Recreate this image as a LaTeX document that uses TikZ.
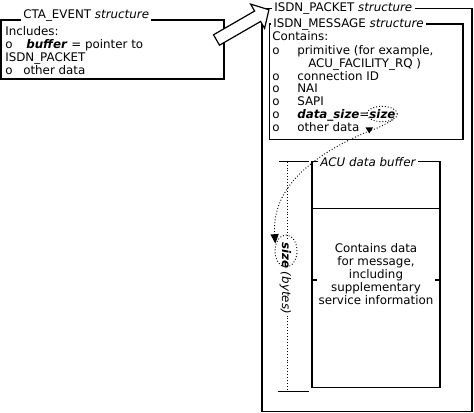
\documentclass[tikz,border=0pt]{standalone}
\usepackage{fontspec}
\setmainfont{DejaVu Sans}
\usetikzlibrary{shapes.geometric,arrows.meta}
\begin{document}
\begin{tikzpicture}[x=0.75pt,y=-0.75pt,
  txt/.style={font=\fontsize{8.9}{10}\selectfont, inner sep=0pt, anchor=base west},
  ctxt/.style={font=\fontsize{8.9}{10}\selectfont, inner sep=0pt, anchor=base},
  ttl/.style={font=\fontsize{8.9}{10}\selectfont, inner sep=1.5pt},
  heavybox/.style={line width=1.4pt},
  boxline/.style={line width=1.1pt},
  dimline/.style={line width=0.8pt},
  dotline/.style={line width=0.7pt, dash pattern=on 0.7pt off 1.5pt},
  ell/.style={ellipse, draw, line width=0.7pt, dash pattern=on 0.7pt off 1.5pt, inner sep=0pt},
  blk/.style={draw, line width=0.9pt, fill=white, line join=miter}]
\useasboundingbox (0,0) rectangle (474,413);

% ---------- CTA_EVENT box ----------
\node[ttl, anchor=base west] (ctat) at (21,18.5) {CTA\_EVENT \textit{structure}};
\draw[heavybox] (ctat.base west |- 0,20) -- (1,20) -- (1,79) -- (224,79) -- (224,20) -- (ctat.base east |- 0,20);
\node[txt] (c1) at (5,36) {Includes:};
\node[txt] (c2o) at (5,49) {o};
\node[txt] (c2) at (26,49) {\textbf{\textit{buffer}} = pointer to};
\node[txt] (c3) at (5,62) {ISDN\_PACKET};
\node[txt] (c4o) at (5,75) {o};
\node[txt] (c4) at (23,75) {other data};

% ---------- ISDN_PACKET box ----------
\node[ttl, anchor=west] (pktt) at (272,8.5) {ISDN\_PACKET \textit{structure}};
\draw[heavybox] (pktt.west) -- (262,8.5) -- (262,411.5) -- (472,411.5) -- (472,8.5) -- (pktt.east);

% ---------- ISDN_MESSAGE box ----------
\node[ttl, anchor=west] (msgt) at (271,24) {ISDN\_MESSAGE \textit{structure}};
\draw[boxline] (msgt.west) -- (269.5,24) -- (269.5,139.5) -- (463,139.5) -- (463,24) -- (msgt.east);
\node[txt] (m1) at (272,41) {Contains:};
\node[txt] (m2o) at (272,54.5) {o};
\node[txt] (m2) at (297,54.5) {primitive (for example,};
\node[txt] (m3) at (308,67.5) {ACU\_FACILITY\_RQ )};
\node[txt] (m4o) at (272,80.5) {o};
\node[txt] (m4) at (297,80.5) {connection ID};
\node[txt] (m5o) at (272,93) {o};
\node[txt] (m5) at (297,93) {NAI};
\node[txt] (m6o) at (272,106) {o};
\node[txt] (m6) at (297,106) {SAPI};
\node[txt] (m7o) at (272,119) {o};
\node[txt] (m7) at (297,119) {\textbf{\textit{data\_size}}=\textbf{\textit{size}}};
\node[txt] (m8o) at (272,131.5) {o};
\node[txt] (m8) at (297,131.5) {other data};
\node[ell, minimum width=23pt, minimum height=11.5pt] (szA) at (382,114) {};

% ---------- ACU data buffer ----------
\node[ttl, anchor=west, font=\fontsize{8.9}{10}\selectfont\itshape] (acut) at (318,161.7) {ACU data buffer};
\draw[boxline] (acut.west) -- (312,161.7) -- (312,387.7) -- (440,387.7) -- (440,161.7) -- (acut.east);
\draw[boxline] (312,208.3) -- (440,208.3);
\draw[dimline] (312,280) -- (317,280);
\draw[dimline] (440,280) -- (435,280);
\node[ctxt] (b1) at (376,252) {Contains data};
\node[ctxt] (b2) at (376,265) {for message,};
\node[ctxt] (b3) at (376,278) {including};
\node[ctxt] (b4) at (376,291) {supplementary};
\node[ctxt] (b5) at (376,304) {service information};

% ---------- dimension ----------
\coordinate (dt1) at (279,161.7);
\coordinate (dt2) at (309,161.7);
\coordinate (db1) at (278,391.7);
\coordinate (db2) at (309,391.7);
\coordinate (dtop) at (287,161.7);
\coordinate (dbot) at (287,391.7);
\draw[dimline] (dt1) -- (dt2);
\draw[dimline] (db1) -- (db2);
\node[font=\fontsize{8.9}{10}\selectfont\itshape, inner sep=1pt, rotate=-90] (szl) at (285.5,278) {\textbf{size} (bytes)};
\draw[dotline] (dtop) -- (szl.west -| dtop);
\draw[dotline] (szl.east -| dbot) -- (dbot);
\node[ell, minimum width=16.5pt, minimum height=24pt] (szB) at (286,251) {};

% ---------- dotted reference curve ----------
\coordinate (midk) at (369,131);
\draw[dotline, shorten >=1pt, -{Triangle[length=7pt,width=6pt]}] (szA.south east) .. controls (382,126) and (376,129) .. (midk) .. controls (300,160) and (272,195) .. (szB.150);
\fill (365.5,127.5) -- (373,127.5) -- (369.3,133.5) -- cycle;

% ---------- block arrow ----------
\draw[blk] (213.5,34.8) -- (254.6,11.05) -- (250.6,4.1) -- (268.9,9.75) -- (264.6,28.4) -- (260.6,21.45) -- (219.5,45.2) -- cycle;
\end{tikzpicture}
\end{document}
